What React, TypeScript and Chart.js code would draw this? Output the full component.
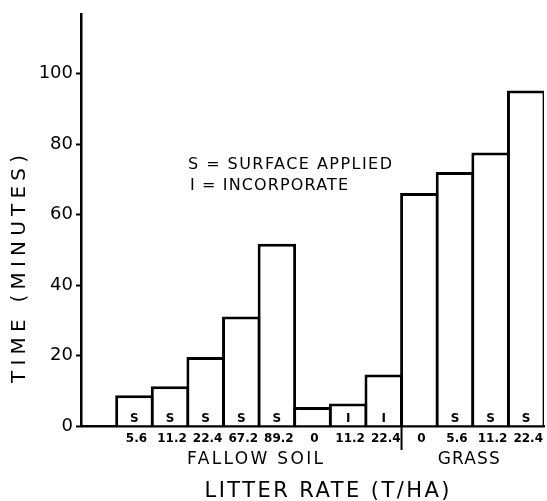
import React, { useEffect, useRef } from 'react';
import { Chart, registerables } from 'chart.js';

Chart.register(...registerables);

// ---- data ----
const slots = ['', 'F-S-5.6', 'F-S-11.2', 'F-S-22.4', 'F-S-67.2', 'F-S-89.2', 'F-0', 'F-I-11.2', 'F-I-22.4', 'G-0', 'G-S-5.6', 'G-S-11.2', 'G-S-22.4'];
const rateLabels = ['', '5.6', '11.2', '22.4', '67.2', '89.2', '0', '11.2', '22.4', '0', '5.6', '11.2', '22.4'];
const methodLabels = ['', 'S', 'S', 'S', 'S', 'S', '', 'I', 'I', '', 'S', 'S', 'S'];
const timeMinutes = [null, 8.7, 11.3, 19.6, 31.1, 51.7, 5.4, 6.4, 14.6, 66.1, 72.1, 77.6, 95.2];
const groupNames = ['FALLOW SOIL', 'GRASS'];
const groupFirst = [1, 9];
const groupLast = [8, 12];
const yTickValues = [0, 20, 40, 60, 80, 100];
const legendLines = ['S = SURFACE APPLIED', 'I = INCORPORATE'];
const yTitle = 'TIME (MINUTES)';
const xTitle = 'LITTER RATE (T/HA)';

const FONT = "'DejaVu Sans', sans-serif";

function fitText(ctx: CanvasRenderingContext2D, s: string, cx: number, cy: number, font: string, target: number, angle = 0) {
  ctx.save();
  ctx.font = font;
  (ctx as any).letterSpacing = '0px';
  const w = ctx.measureText(s).width;
  const n = s.length;
  const sp = target > 0 && n > 1 ? Math.max(0, (target - w) / (n - 1)) : 0;
  (ctx as any).letterSpacing = sp + 'px';
  ctx.fillStyle = '#000';
  ctx.textBaseline = 'middle';
  ctx.textAlign = 'left';
  ctx.translate(cx, cy);
  ctx.rotate(angle);
  const total = w + sp * (n - 1);
  ctx.fillText(s, -total / 2, 0);
  ctx.restore();
}

const annotations = {
  id: 'annotations',
  afterDatasetsDraw(chart: any) {
    const ctx = chart.ctx as CanvasRenderingContext2D;
    const xs = chart.scales.x;
    const base = chart.chartArea.bottom;
    // per-bar labels
    for (let i = 0; i < slots.length; i++) {
      const px = xs.getPixelForValue(i);
      if (methodLabels[i]) fitText(ctx, methodLabels[i], px, base - 7, `bold 12px ${FONT}`, 0);
      if (rateLabels[i]) fitText(ctx, rateLabels[i], px + 2, base + 13, `bold 12px ${FONT}`, 0);
    }
    // divider between groups
    const half = (xs.getPixelForValue(1) - xs.getPixelForValue(0)) / 2;
    const dx = xs.getPixelForValue(groupLast[0]) + half;
    ctx.save();
    ctx.strokeStyle = '#000';
    ctx.lineWidth = 2;
    ctx.beginPath();
    ctx.moveTo(dx, base);
    ctx.lineTo(dx, base + 24);
    ctx.stroke();
    ctx.restore();
    // group labels
    const groupWidths = [136, 62];
    for (let g = 0; g < groupNames.length; g++) {
      const cx = (xs.getPixelForValue(groupFirst[g]) + xs.getPixelForValue(groupLast[g])) / 2 - 4;
      fitText(ctx, groupNames[g], cx, base + 34, `17px ${FONT}`, groupWidths[g]);
    }
    // axis titles
    fitText(ctx, xTitle, 327, 492, `21px ${FONT}`, 245);
    fitText(ctx, yTitle, 20, 269, `20px ${FONT}`, 228, -Math.PI / 2);
    // legend
    fitText(ctx, legendLines[0], 290, 165, `16px ${FONT}`, 204);
    fitText(ctx, legendLines[1], 269, 186, `16px ${FONT}`, 158);
  },
};

export default function App() {
  const ref = useRef<HTMLCanvasElement>(null);
  useEffect(() => {
    if (!ref.current) return;
    const chart = new Chart(ref.current, {
      type: 'bar',
      data: {
        labels: slots,
        datasets: [
          {
            data: timeMinutes as any,
            backgroundColor: '#fff',
            borderColor: '#000',
            borderWidth: 3,
            borderSkipped: 'bottom',
            categoryPercentage: 1,
            barPercentage: 1.08,
          },
        ],
      },
      options: {
        animation: false,
        responsive: true,
        maintainAspectRatio: false,
        layout: { padding: { top: 12, right: 3, left: 0, bottom: 0 } },
        plugins: { legend: { display: false }, tooltip: { enabled: false }, title: { display: false } },
        scales: {
          x: {
            grid: { display: false },
            border: { display: true, color: '#000', width: 2.5 },
            ticks: { display: false },
            afterFit: (s: any) => { s.height = 75; },
          },
          y: {
            min: 0,
            max: 117,
            grid: { drawOnChartArea: false, drawTicks: true, tickLength: 5, tickColor: '#000', tickWidth: 2 },
            border: { display: true, color: '#000', width: 2.5 },
            ticks: {
              stepSize: 20,
              padding: 3,
              color: '#000',
              font: { family: FONT, size: 18 },
            },
            afterBuildTicks: (s: any) => {
              s.ticks = s.ticks.filter((t: any) => yTickValues.includes(t.value));
            },
            afterFit: (s: any) => { s.width = 81; },
          },
        },
      },
      plugins: [annotations],
    });
    return () => chart.destroy();
  }, []);
  return (
    <div style={{ position: 'absolute', left: 0, top: 0, width: '547px', height: '501px', background: '#fff' }}>
      <canvas ref={ref} />
    </div>
  );
}
